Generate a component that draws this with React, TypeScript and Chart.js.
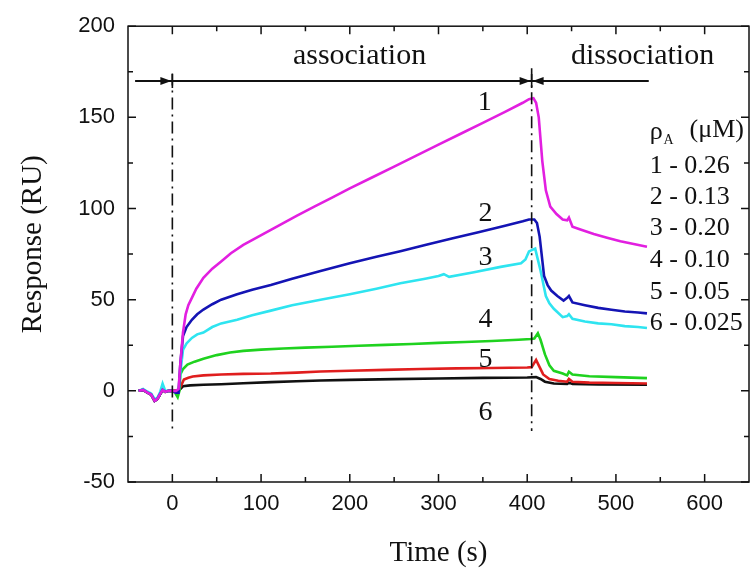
import React, { useEffect, useRef } from "react";
import { Chart, registerables } from "chart.js";

Chart.register(...registerables);

// ---- Data (time in s, response in RU) ----
const BASE_T = [-38, -33, -28, -24, -20, -17, -14, -11, -8, -4, 0];
const BASE_V = [0, 0.5, -1, -2, -5.5, -4.5, -2, 0.5, -0.5, 0, 0];

const T1 = [4, 7, 9, 12, 15, 18, 22, 27, 35, 45, 55, 66, 80, 95, 110, 125, 140, 160, 180, 200, 225, 250, 275, 300, 325, 350, 375, 395, 402, 407, 410, 413, 417, 421, 426, 433, 440, 445, 447, 451, 460, 475, 490, 505, 520, 535];
const V1 = [0, 1, 15, 32, 42, 47, 51, 56, 62, 67, 71, 75.5, 80, 84, 88, 92, 96, 101, 106, 111, 117, 123, 129, 135, 141, 147, 153, 158, 160, 160.5, 158, 150, 126, 110, 101, 97, 94, 93.5, 95, 90, 88.5, 86, 84, 82, 80.5, 79];

const T2 = [4, 7, 9, 12, 16, 22, 28, 35, 45, 55, 73, 90, 111, 135, 167, 200, 230, 257, 285, 315, 345, 375, 395, 402, 408, 411, 414, 419, 423, 427, 434, 441, 445, 447, 451, 465, 480, 495, 510, 525, 535];
const V2 = [-1, -1, 15, 30, 35, 39, 42, 44.6, 47.5, 50, 53, 55.5, 58, 61.5, 65.7, 70, 73.5, 76.6, 80, 83.5, 87, 90.5, 93, 94, 94, 92, 84.6, 63, 58, 55, 52, 49.5, 51, 52, 48.5, 47, 45.5, 44.5, 43.5, 43, 42.5];

const T3 = [4, 7, 9, 12, 16, 22, 28, 35, 45, 55, 73, 90, 111, 135, 167, 200, 230, 257, 285, 300, 306, 312, 340, 370, 393, 398, 402, 409, 412, 415, 421, 425, 430, 440, 445, 447, 451, 465, 480, 495, 510, 525, 535];
const V3 = [-1, -1, 10, 22.5, 26, 29, 31, 32, 35, 37, 39, 41.5, 44, 47, 50, 53, 56, 59, 61.5, 63, 64, 62.5, 65, 68, 70, 72, 76.5, 78, 72, 66, 52, 48, 45, 40.4, 41, 42, 39.5, 38, 37, 36.5, 35.5, 35, 34.5];
const V3_BASE = [0, 1, -0.5, -1.5, -4.5, -4, -1, 4, 0, 0, 0];

const T4 = [3, 6, 8, 9, 12, 17, 25, 35, 50, 65, 80, 100, 125, 150, 180, 210, 240, 270, 300, 330, 360, 390, 404, 408, 412, 415, 420, 425, 430, 440, 445, 447, 451, 470, 500, 535];
const V4 = [-1, -3.5, 0, 9, 12, 14.4, 16, 17.6, 19.6, 21, 21.9, 22.6, 23.2, 23.7, 24.2, 24.7, 25.2, 25.7, 26.3, 26.8, 27.3, 28, 28.4, 28.7, 31.6, 28, 20, 14, 11, 9.5, 8.5, 10.5, 9, 8, 7.5, 7];

const T5 = [4, 7, 10, 13, 18, 23, 35, 55, 80, 111, 140, 167, 200, 240, 280, 320, 360, 400, 405, 410, 413, 418, 425, 435, 445, 447, 451, 470, 500, 535];
const V5 = [0, 0, 3, 6.2, 7.2, 7.9, 8.5, 9, 9.3, 9.5, 10, 10.6, 11, 11.5, 12, 12.3, 12.5, 12.8, 13, 17, 14, 9, 6.5, 5.5, 5, 6.5, 5, 4.5, 4.3, 4];

const T6 = [4, 7, 10, 12, 20, 35, 55, 80, 111, 140, 167, 200, 250, 300, 350, 400, 410, 415, 420, 430, 445, 447, 451, 480, 535];
const V6 = [0, 0, 1.5, 2.5, 3, 3.3, 3.6, 4.2, 4.8, 5.3, 5.7, 6, 6.4, 6.8, 7.1, 7.3, 7.5, 6.5, 5, 4, 3.8, 4.5, 3.8, 3.5, 3.3];

const SERIES_COLORS = ["#e21fe0", "#1414b4", "#2ee4f0", "#1fd21f", "#e01e1e", "#111111"];

const X_TICKS = [0, 100, 200, 300, 400, 500, 600];
const Y_TICKS = [-50, 0, 50, 100, 150, 200];
const X_MINOR = [50, 150, 250, 350, 450, 550];
const Y_MINOR = [-25, 25, 75, 125, 175];

const CURVE_LABELS = ["1", "2", "3", "4", "5", "6"];
const CURVE_LABEL_T = [352, 353, 353, 353, 353, 353];
const CURVE_LABEL_V = [158, 97, 73, 39, 17, -12];

const LEGEND_LINES = ["1 - 0.26", "2 - 0.13", "3 - 0.20", "4 - 0.10", "5 - 0.05", "6 - 0.025"];
const LEGEND_V = [123.5, 106.3, 89, 71.5, 54, 37];
const LEGEND_T = 538;
const LEGEND_TITLE_V = 142;
const LEGEND_UNIT_T = 583;

const PHASE_T = [0, 405];
const PHASE_TOP_V = [174, 177];
const PHASE_BOTTOM_V = -22;
const ARROW_V = 170;
const ARROW_START_T = -42;
const ARROW_END_T = 537;
const PHASE_NAMES = ["association", "dissociation"];
const PHASE_NAME_T = [211, 530];
const PHASE_NAME_V = 183.5;

const Y_TITLE = "Response (RU)";
const Y_TITLE_V = 80.4;
const Y_TITLE_X = 33;

const SERIF = "'Liberation Serif', 'Times New Roman', serif";
const SANS = "'Liberation Sans', Arial, sans-serif";

function pts(ts: number[], vs: number[], bt: number[], bv: number[]) {
  const out: { x: number; y: number }[] = [];
  bt.forEach((t, i) => out.push({ x: t, y: bv[i] }));
  ts.forEach((t, i) => out.push({ x: t, y: vs[i] }));
  return out;
}

const decorPlugin = {
  id: "decor",
  afterDatasetsDraw(chart: any) {
    const { ctx, chartArea, scales } = chart;
    const { left, right, top, bottom } = chartArea;
    const xs = scales.x;
    const ys = scales.y;
    ctx.save();
    ctx.strokeStyle = "#111";
    ctx.fillStyle = "#111";

    // frame
    ctx.lineWidth = 1.5;
    ctx.setLineDash([]);
    ctx.strokeRect(left, top, right - left, bottom - top);

    // inward ticks on all four sides
    const major = 8;
    const minor = 5;
    ctx.beginPath();
    const xt = (v: number, len: number) => {
      const p = xs.getPixelForValue(v);
      ctx.moveTo(p, bottom);
      ctx.lineTo(p, bottom - len);
      ctx.moveTo(p, top);
      ctx.lineTo(p, top + len);
    };
    const yt = (v: number, len: number) => {
      const p = ys.getPixelForValue(v);
      ctx.moveTo(left, p);
      ctx.lineTo(left + len, p);
      ctx.moveTo(right, p);
      ctx.lineTo(right - len, p);
    };
    X_TICKS.forEach((v) => xt(v, major));
    X_MINOR.forEach((v) => xt(v, minor));
    Y_TICKS.forEach((v) => yt(v, major));
    Y_MINOR.forEach((v) => yt(v, minor));
    ctx.stroke();

    // dash-dot phase lines
    ctx.lineWidth = 1.6;
    ctx.setLineDash([12, 5, 2, 5]);
    PHASE_T.forEach((t, i) => {
      const px = xs.getPixelForValue(t);
      ctx.beginPath();
      ctx.moveTo(px, ys.getPixelForValue(PHASE_TOP_V[i]));
      ctx.lineTo(px, ys.getPixelForValue(PHASE_BOTTOM_V));
      ctx.stroke();
    });
    ctx.setLineDash([]);

    // arrow line
    const ay = ys.getPixelForValue(ARROW_V);
    const x0 = xs.getPixelForValue(PHASE_T[0]);
    const x1 = xs.getPixelForValue(PHASE_T[1]);
    ctx.lineWidth = 2;
    ctx.beginPath();
    ctx.moveTo(xs.getPixelForValue(ARROW_START_T), ay);
    ctx.lineTo(xs.getPixelForValue(ARROW_END_T), ay);
    ctx.stroke();
    ctx.lineWidth = 1.6;
    ctx.beginPath();
    [x0, x1].forEach((px) => {
      ctx.moveTo(px, ay - 7);
      ctx.lineTo(px, ay + 7);
    });
    ctx.stroke();
    const head = (tip: number, dir: number) => {
      ctx.beginPath();
      ctx.moveTo(tip, ay);
      ctx.lineTo(tip - dir * 11, ay - 4);
      ctx.lineTo(tip - dir * 11, ay + 4);
      ctx.closePath();
      ctx.fill();
    };
    head(x0 - 1, 1);
    head(x1 - 1, 1);
    head(x1 + 1, -1);

    // phase names
    ctx.textAlign = "center";
    ctx.textBaseline = "middle";
    ctx.font = `30px ${SERIF}`;
    PHASE_NAMES.forEach((name, i) => {
      ctx.fillText(name, xs.getPixelForValue(PHASE_NAME_T[i]), ys.getPixelForValue(PHASE_NAME_V));
    });

    // curve numbers
    ctx.font = `28px ${SERIF}`;
    CURVE_LABELS.forEach((lab, i) => {
      ctx.fillText(lab, xs.getPixelForValue(CURVE_LABEL_T[i]), ys.getPixelForValue(CURVE_LABEL_V[i]));
    });

    // legend block
    ctx.textAlign = "left";
    const lx = xs.getPixelForValue(LEGEND_T);
    ctx.font = `26px ${SERIF}`;
    LEGEND_LINES.forEach((line, i) => {
      ctx.fillText(line, lx, ys.getPixelForValue(LEGEND_V[i]));
    });
    const ty = ys.getPixelForValue(LEGEND_TITLE_V);
    ctx.fillText("ρ", lx, ty);
    const rw = ctx.measureText("ρ").width;
    ctx.fillText("(μM)", xs.getPixelForValue(LEGEND_UNIT_T), ty - 2);
    ctx.font = `14px ${SERIF}`;
    ctx.fillText("A", lx + rw + 1, ty + 8);

    // y axis title
    ctx.save();
    ctx.translate(Y_TITLE_X, ys.getPixelForValue(Y_TITLE_V));
    ctx.rotate(-Math.PI / 2);
    ctx.textAlign = "center";
    ctx.textBaseline = "middle";
    ctx.font = `29px ${SERIF}`;
    ctx.fillText(Y_TITLE, 0, 0);
    ctx.restore();

    ctx.restore();
  },
};

export default function App() {
  const ref = useRef<HTMLCanvasElement | null>(null);
  useEffect(() => {
    if (!ref.current) return;
    const datasets = [
      { label: "1", data: pts(T1, V1, BASE_T, BASE_V) },
      { label: "2", data: pts(T2, V2, BASE_T, BASE_V) },
      { label: "3", data: pts(T3, V3, BASE_T, V3_BASE) },
      { label: "4", data: pts(T4, V4, BASE_T, BASE_V) },
      { label: "5", data: pts(T5, V5, BASE_T, BASE_V) },
      { label: "6", data: pts(T6, V6, BASE_T, BASE_V) },
    ].map((d, i) => ({
      ...d,
      borderColor: SERIES_COLORS[i],
      backgroundColor: SERIES_COLORS[i],
      borderWidth: 2.6,
      pointRadius: 0,
      tension: 0,
      fill: false,
    }));
    const chart = new Chart(ref.current, {
      type: "line",
      data: { datasets },
      plugins: [decorPlugin],
      options: {
        animation: false,
        responsive: false,
        layout: { padding: { top: 20, right: 1, left: 0, bottom: 0 } },
        plugins: { legend: { display: false }, tooltip: { enabled: false } },
        scales: {
          x: {
            type: "linear",
            min: -50,
            max: 650,
            grid: { display: false, drawTicks: false },
            border: { display: false },
            afterBuildTicks: (s: any) => {
              s.ticks = X_TICKS.map((v) => ({ value: v }));
            },
            afterFit: (s: any) => {
              s.height = 91;
            },
            ticks: {
              padding: 9,
              maxRotation: 0,
              color: "#111",
              font: { family: SANS, size: 22 },
            },
            title: {
              display: true,
              text: "Time (s)",
              color: "#111",
              font: { family: SERIF, size: 29 },
              padding: { top: 0, bottom: 2 },
            },
          },
          y: {
            type: "linear",
            min: -50,
            max: 200,
            grid: { display: false, drawTicks: false },
            border: { display: false },
            afterBuildTicks: (s: any) => {
              s.ticks = Y_TICKS.map((v) => ({ value: v }));
            },
            afterFit: (s: any) => {
              s.width = 128;
            },
            ticks: {
              padding: 13,
              color: "#111",
              font: { family: SANS, size: 22 },
            },
            title: { display: false },
          },
        },
      },
    });
    return () => chart.destroy();
  }, []);
  return (
    <div style={{ position: "absolute", left: 0, top: 0, width: 750, height: 573, background: "#fff" }}>
      <canvas ref={ref} width={750} height={573} style={{ display: "block" }} />
    </div>
  );
}
